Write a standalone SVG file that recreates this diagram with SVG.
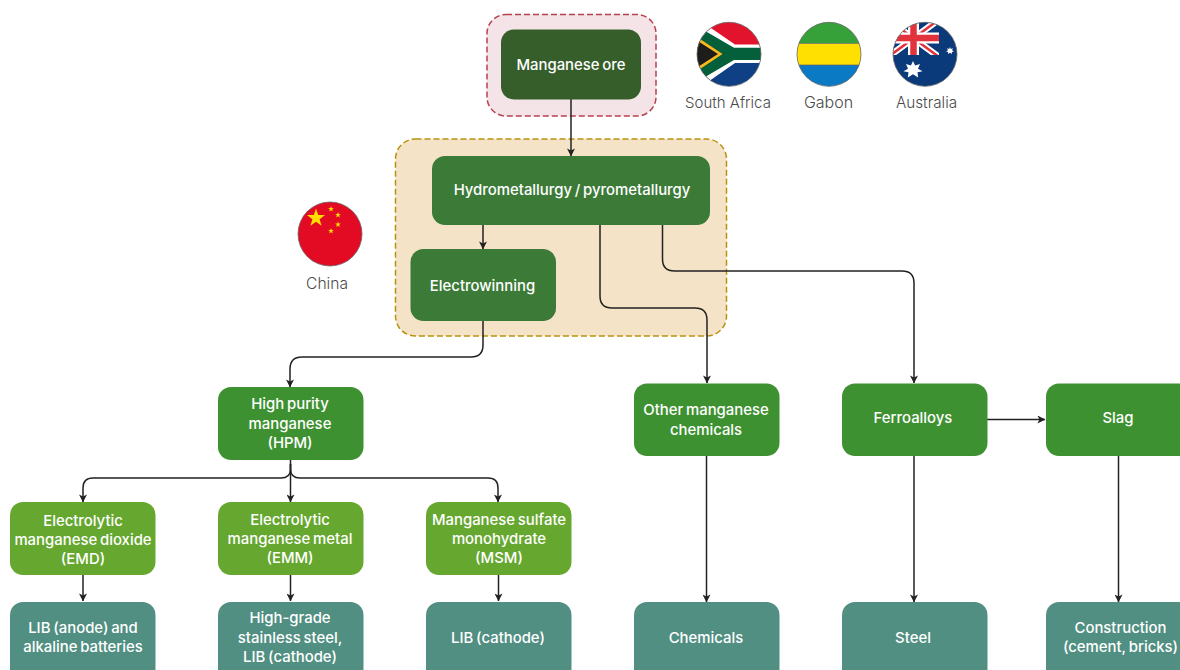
<svg xmlns="http://www.w3.org/2000/svg" width="1180" height="670" viewBox="0 0 1180 670">
<style>
text{font-family:Inter,"Liberation Sans",sans-serif;text-anchor:middle}
.n{fill:#fff;font-size:14.9px;font-weight:500;word-spacing:-1.2px}
.c{fill:#4a4a4a;font-size:15.300px;font-weight:300}
.l{fill:none;stroke:#222;stroke-width:1.5;marker-end:url(#a)}
.f{fill:none;stroke:#666;stroke-width:.8}
.dk{fill:#365e2b}.md{fill:#3c7a38}.gr{fill:#3e9131}.lg{fill:#66a72f}.te{fill:#518f82}
</style>
<defs>
<marker id="a" viewBox="0 0 10 10" refX="9.500" refY="5" markerWidth="8" markerHeight="8" markerUnits="userSpaceOnUse" orient="auto"><path d="M0 0L10 5L0 10L2.500 5Z" fill="#222"/></marker>
<clipPath id="sa"><circle cx="729" cy="54.300" r="32"/></clipPath>
<clipPath id="ga"><circle cx="829" cy="54.300" r="32"/></clipPath>
<clipPath id="au"><circle cx="925" cy="54.300" r="32"/></clipPath>
<clipPath id="jack"><rect x="890" y="20" width="49" height="35"/></clipPath>
<polygon id="s" points="0,-1 .235,-.324 .951,-.309 .38,.124 .588,.809 0,.4 -.588,.809 -.38,.124 -.951,-.309 -.235,-.324" fill="#ffde00"/>
</defs>
<rect width="1180" height="670" fill="#fff"/>
<g id="region-ore"><rect x="487" y="14.500" width="169" height="101.500" rx="19" fill="#f5e4e7" stroke="#b9404f" stroke-width="1.500" stroke-dasharray="6 3"/></g>
<g id="region-china"><rect x="395.500" y="139" width="331" height="197" rx="20" fill="#f5e3c7" stroke="#b8920f" stroke-width="1.500" stroke-dasharray="6 3"/></g>
<g id="connectors">
<path class="l" d="M571 99V156"/>
<path class="l" d="M483 225V249"/>
<path class="l" d="M600 225V296Q600 308 612 308H695Q707 308 707 320V383"/>
<path class="l" d="M662.500 225V259Q662.500 271 674.500 271H902Q914 271 914 283V383"/>
<path class="l" d="M483 321V345Q483 357 471 357H302Q290 357 290 369V387"/>
<path class="l" d="M290.500 460V502"/>
<path class="l" d="M290.500 464V469Q290.500 478 281 478H93Q83 478 83 488V502"/>
<path class="l" d="M290.500 464V469Q290.500 478 300 478H488Q498 478 498 488V502"/>
<path class="l" d="M83 575V601"/>
<path class="l" d="M290.500 575V601"/>
<path class="l" d="M498.500 575V601"/>
<path class="l" d="M706.500 456V602"/>
<path class="l" d="M914 456V602"/>
<path class="l" d="M1118.500 456V602"/>
<path class="l" d="M987 419.500H1045"/>
</g>
<g id="n-ore"><rect class="dk" x="501" y="29.500" width="140" height="70" rx="13"/><text class="n" x="571" y="70">Manganese ore</text></g>
<g id="n-hydro"><rect class="md" x="432" y="156" width="278" height="69" rx="13"/><text class="n" x="572" y="195">Hydrometallurgy / pyrometallurgy</text></g>
<g id="n-ew"><rect class="md" x="410.500" y="249" width="145.500" height="72" rx="13"/><text class="n" x="482.500" y="291">Electrowinning</text></g>
<g id="n-hpm"><rect class="gr" x="218" y="387" width="145.500" height="73" rx="13"/><text class="n" x="290" y="409">High purity</text><text class="n" x="290" y="429">manganese</text><text class="n" x="290" y="448">(HPM)</text></g>
<g id="n-other"><rect class="gr" x="634" y="383.500" width="145.500" height="72.500" rx="13"/><text class="n" x="706" y="415">Other manganese</text><text class="n" x="706" y="435">chemicals</text></g>
<g id="n-ferro"><rect class="gr" x="842" y="383.500" width="145.500" height="72.500" rx="13"/><text class="n" x="913" y="423">Ferroalloys</text></g>
<g id="n-slag"><rect class="gr" x="1046" y="383.500" width="145.500" height="72.500" rx="13"/><text class="n" x="1118" y="423">Slag</text></g>
<g id="n-emd"><rect class="lg" x="10" y="502" width="145.500" height="73" rx="13"/><text class="n" x="83" y="526">Electrolytic</text><text class="n" x="83" y="545">manganese dioxide</text><text class="n" x="83" y="564">(EMD)</text></g>
<g id="n-emm"><rect class="lg" x="218" y="502" width="145.500" height="73" rx="13"/><text class="n" x="290" y="525">Electrolytic</text><text class="n" x="290" y="544">manganese metal</text><text class="n" x="290" y="563">(EMM)</text></g>
<g id="n-msm"><rect class="lg" x="426" y="502" width="145.500" height="73" rx="13"/><text class="n" x="499" y="525">Manganese sulfate</text><text class="n" x="499" y="544">monohydrate</text><text class="n" x="499" y="563">(MSM)</text></g>
<g id="n-lib1"><rect class="te" x="10" y="602" width="145.500" height="80" rx="13"/><text class="n" x="83" y="633">LIB (anode) and</text><text class="n" x="83" y="652">alkaline batteries</text></g>
<g id="n-steel2"><rect class="te" x="218" y="602" width="145.500" height="80" rx="13"/><text class="n" x="290" y="623">High-grade</text><text class="n" x="290" y="643">stainless steel,</text><text class="n" x="290" y="662">LIB (cathode)</text></g>
<g id="n-lib2"><rect class="te" x="426" y="602" width="145.500" height="80" rx="13"/><text class="n" x="498" y="643">LIB (cathode)</text></g>
<g id="n-chem"><rect class="te" x="634" y="602" width="145.500" height="80" rx="13"/><text class="n" x="706" y="643">Chemicals</text></g>
<g id="n-steel"><rect class="te" x="842" y="602" width="145.500" height="80" rx="13"/><text class="n" x="913" y="643">Steel</text></g>
<g id="n-constr"><rect class="te" x="1046" y="602" width="145.500" height="80" rx="13"/><text class="n" x="1120.500" y="633">Construction</text><text class="n" x="1120.500" y="652">(cement, bricks)</text></g>
<g id="flag-za">
<g clip-path="url(#sa)"><rect x="697" y="22" width="64" height="32" fill="#e2142d"/><rect x="697" y="54" width="64" height="33" fill="#0f3f84"/>
<path d="M690 20.500H700L735 44.500H765V63H735L700 87.500H690Z" fill="#fff"/>
<path d="M690 26.300H697L734 47.800H765V60H734L697 81.700H690Z" fill="#03603a"/>
<path d="M690 32.300L722.500 54L690 75.700Z" fill="#ffb81c"/>
<path d="M690 36L718 54L690 72Z" fill="#1d1d1b"/></g>
<circle class="f" cx="729" cy="54.300" r="32"/></g>
<g id="flag-ga">
<g clip-path="url(#ga)"><rect x="797" y="22" width="64" height="21.500" fill="#36a139"/><rect x="797" y="43.500" width="64" height="21.500" fill="#ffe000"/><rect x="797" y="65" width="64" height="22" fill="#0a7ac4"/>
<path d="M797 43.500H861M797 65H861" stroke="#666" stroke-width=".7"/></g>
<circle class="f" cx="829" cy="54.300" r="32"/></g>
<g id="flag-au">
<g clip-path="url(#au)"><rect x="893" y="22" width="64" height="65" fill="#0b3a7a"/>
<g clip-path="url(#jack)">
<path d="M888 19.500L939 57M939 19.500L888 57" stroke="#fff" stroke-width="6.500"/>
<path d="M888 19.500L939 57M939 19.500L888 57" stroke="#e2323c" stroke-width="2.500"/>
<path d="M890 38H939M913.500 20V55" stroke="#fff" stroke-width="11"/>
<path d="M890 38H939M913.500 20V55" stroke="#e2323c" stroke-width="6.500"/></g>
<polygon points="913,61 915.100,65.600 920,64 918,68.700 922.500,71.200 917.500,72.300 918.200,77.500 913,74.300 907.800,77.500 908.500,72.300 903.500,71.200 908,68.700 906,64 910.900,65.600" fill="#fff"/>
<polygon points="950,47 950.800,49 953,48.300 952,50.300 954,51.400 951.800,51.900 952,54 950,52.800 948,54 948.200,51.900 946,51.400 948,50.300 947,48.300 949.200,49" fill="#fff"/></g>
<circle class="f" cx="925" cy="54.300" r="32"/></g>
<g id="flag-cn">
<circle cx="330" cy="234" r="32" fill="#e30a23"/>
<use href="#s" transform="translate(316 218) scale(9.500)"/>
<use href="#s" transform="translate(331 209) scale(3)"/>
<use href="#s" transform="translate(338 215) scale(3)"/>
<use href="#s" transform="translate(338 224.500) scale(3)"/>
<use href="#s" transform="translate(331 231) scale(3)"/>
<circle class="f" cx="330" cy="234" r="32"/></g>
<g id="labels">
<text class="c" x="728" y="107.500" style="font-size:15px">South Africa</text>
<text class="c" x="828.500" y="107.500" style="font-size:16px">Gabon</text>
<text class="c" x="926.500" y="107.500" style="font-size:15.300px">Australia</text>
<text class="c" x="327" y="288.500" style="font-size:15.600px">China</text>
</g>
</svg>
